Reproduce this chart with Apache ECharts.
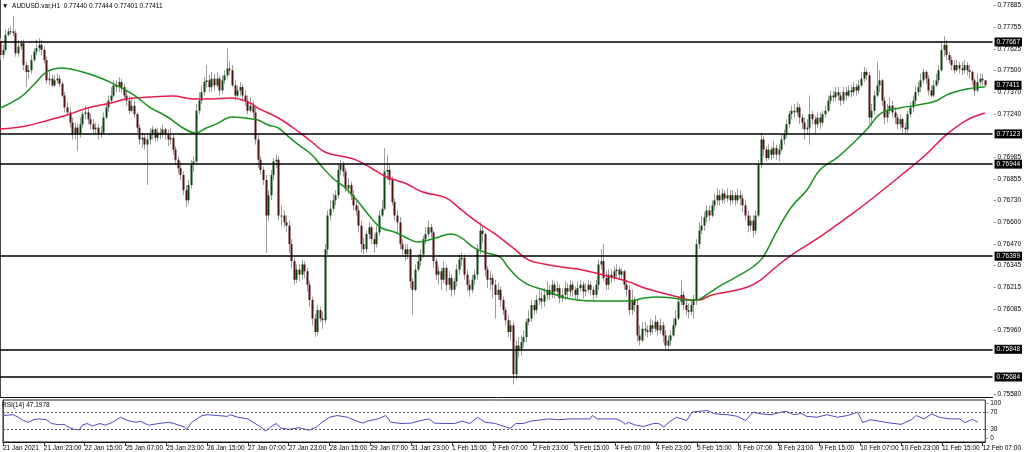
<!DOCTYPE html>
<html><head><meta charset="utf-8">
<script src="https://cdn.jsdelivr.net/npm/echarts@6/dist/echarts.min.js"></script>
<style>html,body{margin:0;padding:0;background:#fff}#c{width:1024px;height:452px}</style>
</head><body><div id="c"></div><script>
const symbolName = 'AUDUSD.var,H1';
const tickLabels = ['21 Jan 2021','21 Jan 23:00','22 Jan 15:00','25 Jan 07:00','25 Jan 23:00','26 Jan 15:00','27 Jan 07:00','27 Jan 23:00','28 Jan 15:00','29 Jan 07:00','31 Jan 23:00','1 Feb 15:00','2 Feb 07:00','2 Feb 23:00','3 Feb 15:00','4 Feb 07:00','4 Feb 23:00','5 Feb 15:00','8 Feb 07:00','8 Feb 23:00','9 Feb 15:00','10 Feb 07:00','10 Feb 23:00','11 Feb 15:00','12 Feb 07:00'];
const priceTicks = [0.77885,0.77755,0.77625,0.775,0.7737,0.7724,0.76985,0.76855,0.7673,0.766,0.7647,0.76345,0.76215,0.76085,0.7596,0.7558];
const rsiTicks = [0,30,70,100];
const rsiLevels = [30,70];
const hLevels = [0.77667,0.77123,0.76944,0.76399,0.75848,0.75684];

const openP = [
0.7767,0.7759,0.7762,0.7771,0.7773,0.7773,0.7772,0.7760,0.7764,0.7766,
0.7753,0.7749,0.7750,0.7756,0.7761,0.7763,0.7765,0.7762,0.7756,0.7744,
0.7745,0.7741,0.7744,0.7745,0.7742,0.7735,0.7728,0.7725,0.7719,0.7712,
0.7716,0.7712,0.7718,0.7724,0.7725,0.7721,0.7718,0.7715,0.7716,0.7712,
0.7713,0.7722,0.7728,0.7732,0.7735,0.7741,0.7740,0.7743,0.7740,0.7735,
0.7732,0.7726,0.7729,0.7724,0.7716,0.7709,0.7710,0.7706,0.7709,0.7712,
0.7715,0.7710,0.7713,0.7712,0.7715,0.7712,0.7709,0.7710,0.7703,0.7697,
0.7692,0.7688,0.7679,0.7673,0.7682,0.7694,0.7696,0.7726,0.7732,0.7737,
0.7743,0.7744,0.7740,0.7745,0.7741,0.7745,0.7738,0.7744,0.7747,0.7751,
0.7750,0.7741,0.7735,0.7738,0.7740,0.7735,0.7732,0.7726,0.7729,0.7725,
0.7709,0.7697,0.7691,0.7685,0.7664,0.7676,0.7688,0.7696,0.7697,0.7664,
0.7664,0.7660,0.7658,0.7647,0.7637,0.7626,0.7632,0.7629,0.7635,0.7631,
0.7623,0.7614,0.7603,0.7595,0.7608,0.7603,0.7602,0.7644,0.7664,0.7668,
0.7673,0.7676,0.7691,0.7694,0.7690,0.7680,0.7682,0.7676,0.7670,0.7667,
0.7658,0.7647,0.7644,0.7653,0.7657,0.7650,0.7647,0.7654,0.7664,0.7668,
0.7690,0.7691,0.7685,0.7672,0.7664,0.7660,0.7647,0.7644,0.7641,0.7644,
0.7625,0.7620,0.7632,0.7637,0.7641,0.7650,0.7653,0.7657,0.7654,0.7637,
0.7629,0.7631,0.7626,0.7633,0.7623,0.7627,0.7620,0.7625,0.7632,0.7638,
0.7639,0.7629,0.7623,0.7620,0.7626,0.7629,0.7644,0.7655,0.7653,0.7632,
0.7626,0.7627,0.7623,0.7617,0.7620,0.7614,0.7608,0.7602,0.7595,0.7599,
0.7570,0.7587,0.7584,0.7589,0.7592,0.7601,0.7603,0.7611,0.7608,0.7614,
0.7615,0.7613,0.7617,0.7620,0.7617,0.7623,0.7619,0.7621,0.7615,0.7617,
0.7621,0.7619,0.7623,0.7620,0.7617,0.7621,0.7623,0.7619,0.7620,0.7623,
0.7620,0.7617,0.7623,0.7635,0.7637,0.7627,0.7623,0.7629,0.7627,0.7631,
0.7632,0.7629,0.7631,0.7623,0.7620,0.7608,0.7614,0.7611,0.7593,0.7590,
0.7597,0.7596,0.7595,0.7599,0.7597,0.7601,0.7596,0.7599,0.7593,0.7587,
0.7590,0.7593,0.7599,0.7603,0.7613,0.7617,0.7611,0.7608,0.7607,0.7611,
0.7614,0.7647,0.7655,0.7658,0.7663,0.7667,0.7664,0.7670,0.7673,0.7676,
0.7673,0.7677,0.7674,0.7676,0.7673,0.7676,0.7673,0.7676,0.7674,0.7670,
0.7664,0.7658,0.7661,0.7655,0.7664,0.7694,0.7709,0.7703,0.7698,0.7703,
0.7700,0.7704,0.7700,0.7703,0.7709,0.7712,0.7718,0.7724,0.7726,0.7725,
0.7728,0.7722,0.7719,0.7715,0.7716,0.7724,0.7721,0.7718,0.7722,0.7719,
0.7724,0.7726,0.7732,0.7735,0.7734,0.7737,0.7735,0.7732,0.7737,0.7735,
0.7738,0.7737,0.7740,0.7738,0.7741,0.7745,0.7749,0.7747,0.7722,0.7726,
0.7735,0.7741,0.7744,0.7732,0.7722,0.7726,0.7729,0.7725,0.7722,0.7718,
0.7721,0.7716,0.7715,0.7724,0.7728,0.7732,0.7737,0.7740,0.7744,0.7749,
0.7745,0.7738,0.7735,0.7741,0.7744,0.7750,0.7762,0.7765,0.7759,0.7756,
0.7753,0.7750,0.7753,0.7751,0.7750,0.7753,0.7750,0.7749,0.7744,0.7738,
0.7743,0.7745,0.77440];

const highP = [
0.7769,0.7765,0.7774,0.7775,0.7776,0.7782,0.7774,0.7768,0.7768,0.7768,
0.7755,0.7753,0.7759,0.7763,0.7768,0.7769,0.7768,0.7764,0.7758,0.7749,
0.7747,0.7747,0.7748,0.7747,0.7743,0.7737,0.7731,0.7728,0.7722,0.7719,
0.7718,0.7722,0.7726,0.7729,0.7728,0.7724,0.7721,0.7719,0.7718,0.7717,
0.7725,0.7731,0.7735,0.7740,0.7744,0.7744,0.7746,0.7745,0.7742,0.7738,
0.7735,0.7734,0.7732,0.7725,0.7718,0.7713,0.7712,0.7712,0.7716,0.7717,
0.7716,0.7716,0.7716,0.7718,0.7716,0.7715,0.7716,0.7712,0.7705,0.7699,
0.7696,0.7690,0.7682,0.7685,0.7697,0.7699,0.7730,0.7737,0.7741,0.7746,
0.7753,0.7747,0.7749,0.7748,0.7749,0.7747,0.7747,0.7750,0.7763,0.7755,
0.7753,0.7744,0.7741,0.7743,0.7742,0.7738,0.7735,0.7734,0.7732,0.7728,
0.7712,0.7699,0.7693,0.7688,0.7679,0.7691,0.7698,0.7700,0.7699,0.7670,
0.7667,0.7664,0.7661,0.7650,0.7639,0.7635,0.7635,0.7638,0.7637,0.7633,
0.7625,0.7616,0.7606,0.7611,0.7610,0.7607,0.7647,0.7667,0.7673,0.7677,
0.7679,0.7694,0.7697,0.7696,0.7692,0.7686,0.7684,0.7679,0.7673,0.7670,
0.7661,0.7651,0.7655,0.7660,0.7658,0.7653,0.7658,0.7667,0.7673,0.7704,
0.7700,0.7694,0.7687,0.7674,0.7667,0.7663,0.7650,0.7647,0.7647,0.7645,
0.7627,0.7635,0.7641,0.7644,0.7652,0.7657,0.7661,0.7659,0.7655,0.7639,
0.7634,0.7633,0.7637,0.7635,0.7631,0.7629,0.7627,0.7635,0.7641,0.7642,
0.7641,0.7632,0.7626,0.7629,0.7632,0.7647,0.7660,0.7658,0.7654,0.7634,
0.7631,0.7629,0.7626,0.7624,0.7622,0.7616,0.7610,0.7605,0.7602,0.7601,
0.7590,0.7592,0.7593,0.7596,0.7603,0.7608,0.7614,0.7614,0.7617,0.7620,
0.7619,0.7621,0.7625,0.7623,0.7626,0.7625,0.7625,0.7623,0.7621,0.7625,
0.7624,0.7626,0.7625,0.7622,0.7625,0.7626,0.7625,0.7624,0.7626,0.7625,
0.7622,0.7626,0.7638,0.7644,0.7647,0.7631,0.7632,0.7632,0.7634,0.7635,
0.7634,0.7633,0.7632,0.7626,0.7623,0.7620,0.7616,0.7614,0.7599,0.7601,
0.7601,0.7599,0.7603,0.7602,0.7605,0.7602,0.7603,0.7601,0.7596,0.7593,
0.7596,0.7603,0.7608,0.7616,0.7626,0.7619,0.7614,0.7612,0.7614,0.7617,
0.7650,0.7660,0.7664,0.7666,0.7670,0.7670,0.7673,0.7677,0.7680,0.7679,
0.7680,0.7679,0.7680,0.7679,0.7679,0.7678,0.7680,0.7679,0.7677,0.7673,
0.7667,0.7664,0.7664,0.7667,0.7697,0.7713,0.7711,0.7705,0.7706,0.7705,
0.7708,0.7706,0.7706,0.7712,0.7715,0.7721,0.7726,0.7729,0.7730,0.7731,
0.7730,0.7724,0.7722,0.7721,0.7735,0.7726,0.7723,0.7725,0.7725,0.7726,
0.7729,0.7735,0.7738,0.7738,0.7740,0.7740,0.7737,0.7740,0.7740,0.7741,
0.7741,0.7743,0.7742,0.7744,0.7749,0.7752,0.7751,0.7749,0.7730,0.7738,
0.7755,0.7750,0.7745,0.7734,0.7730,0.7734,0.7732,0.7728,0.7724,0.7724,
0.7722,0.7719,0.7726,0.7731,0.7735,0.7741,0.7743,0.7748,0.7751,0.7750,
0.7747,0.7741,0.7744,0.7748,0.7753,0.7767,0.7770,0.7768,0.7761,0.7758,
0.7756,0.7756,0.7755,0.7755,0.7756,0.7755,0.7753,0.7750,0.7745,0.7748,
0.7748,0.7748,0.77444];

const lowP = [
0.7756,0.7757,0.7761,0.7770,0.7771,0.7770,0.7758,0.7758,0.7762,0.7750,
0.7740,0.7745,0.7748,0.7755,0.7759,0.7761,0.7759,0.7754,0.7742,0.7741,
0.7740,0.7740,0.7742,0.7740,0.7734,0.7725,0.7724,0.7716,0.7709,0.7709,
0.7702,0.7710,0.7716,0.7721,0.7718,0.7715,0.7712,0.7712,0.7709,0.7710,
0.7712,0.7721,0.7725,0.7731,0.7734,0.7737,0.7737,0.7737,0.7732,0.7729,
0.7724,0.7725,0.7722,0.7713,0.7706,0.7704,0.7703,0.7682,0.7706,0.7709,
0.7708,0.7708,0.7709,0.7710,0.7709,0.7705,0.7706,0.7700,0.7694,0.7689,
0.7685,0.7676,0.7669,0.7671,0.7680,0.7690,0.7694,0.7724,0.7730,0.7735,
0.7740,0.7737,0.7737,0.7738,0.7740,0.7735,0.7736,0.7742,0.7745,0.7747,
0.7740,0.7732,0.7734,0.7735,0.7732,0.7729,0.7724,0.7725,0.7722,0.7706,
0.7692,0.7688,0.7682,0.7642,0.7661,0.7673,0.7685,0.7692,0.7661,0.7658,
0.7657,0.7654,0.7642,0.7633,0.7623,0.7624,0.7625,0.7626,0.7627,0.7619,
0.7610,0.7599,0.7592,0.7593,0.7601,0.7597,0.7600,0.7641,0.7661,0.7666,
0.7670,0.7674,0.7688,0.7687,0.7678,0.7677,0.7673,0.7667,0.7664,0.7654,
0.7642,0.7641,0.7642,0.7650,0.7647,0.7642,0.7645,0.7652,0.7663,0.7667,
0.7685,0.7682,0.7670,0.7661,0.7653,0.7644,0.7640,0.7637,0.7638,0.7621,
0.7605,0.7619,0.7631,0.7634,0.7639,0.7647,0.7651,0.7651,0.7633,0.7626,
0.7623,0.7620,0.7624,0.7619,0.7620,0.7616,0.7617,0.7622,0.7629,0.7634,
0.7626,0.7619,0.7616,0.7618,0.7623,0.7626,0.7641,0.7648,0.7628,0.7621,
0.7620,0.7615,0.7603,0.7614,0.7610,0.7605,0.7599,0.7592,0.7590,0.7564,
0.7567,0.7580,0.7581,0.7586,0.7589,0.7599,0.7601,0.7605,0.7606,0.7611,
0.7609,0.7610,0.7614,0.7614,0.7615,0.7615,0.7616,0.7612,0.7613,0.7614,
0.7615,0.7616,0.7616,0.7614,0.7614,0.7619,0.7615,0.7616,0.7618,0.7617,
0.7614,0.7615,0.7620,0.7632,0.7625,0.7620,0.7620,0.7624,0.7625,0.7627,
0.7626,0.7626,0.7620,0.7616,0.7605,0.7605,0.7607,0.7589,0.7587,0.7589,
0.7593,0.7592,0.7593,0.7594,0.7595,0.7593,0.7594,0.7589,0.7584,0.7584,
0.7587,0.7592,0.7597,0.7602,0.7611,0.7608,0.7605,0.7603,0.7605,0.7603,
0.7611,0.7644,0.7653,0.7655,0.7660,0.7661,0.7663,0.7667,0.7670,0.7670,
0.7671,0.7671,0.7672,0.7670,0.7671,0.7670,0.7671,0.7670,0.7666,0.7661,
0.7654,0.7655,0.7651,0.7653,0.7663,0.7692,0.7699,0.7696,0.7697,0.7697,
0.7698,0.7697,0.7696,0.7702,0.7706,0.7710,0.7716,0.7721,0.7722,0.7723,
0.7718,0.7715,0.7709,0.7712,0.7706,0.7718,0.7712,0.7716,0.7715,0.7717,
0.7722,0.7725,0.7730,0.7731,0.7732,0.7732,0.7729,0.7730,0.7732,0.7734,
0.7734,0.7735,0.7735,0.7736,0.7740,0.7743,0.7744,0.7718,0.7717,0.7724,
0.7734,0.7737,0.7729,0.7718,0.7719,0.7724,0.7722,0.7718,0.7715,0.7715,
0.7713,0.7712,0.7713,0.7722,0.7725,0.7730,0.7735,0.7737,0.7742,0.7742,
0.7735,0.7734,0.7734,0.7740,0.7742,0.7749,0.7758,0.7756,0.7754,0.7750,
0.7748,0.7749,0.7748,0.7747,0.7748,0.7747,0.7745,0.7741,0.7735,0.7737,
0.7741,0.7741,0.77401];

const closeP = [
0.7759,0.7762,0.7771,0.7773,0.7773,0.7772,0.7760,0.7764,0.7766,0.7753,
0.7749,0.7750,0.7756,0.7761,0.7763,0.7765,0.7762,0.7756,0.7744,0.7745,
0.7741,0.7744,0.7745,0.7742,0.7735,0.7728,0.7725,0.7719,0.7712,0.7716,
0.7712,0.7718,0.7724,0.7725,0.7721,0.7718,0.7715,0.7716,0.7712,0.7713,
0.7722,0.7728,0.7732,0.7735,0.7741,0.7740,0.7743,0.7740,0.7735,0.7732,
0.7726,0.7729,0.7724,0.7716,0.7709,0.7710,0.7706,0.7709,0.7712,0.7715,
0.7710,0.7713,0.7712,0.7715,0.7712,0.7709,0.7710,0.7703,0.7697,0.7692,
0.7688,0.7679,0.7673,0.7682,0.7694,0.7696,0.7726,0.7732,0.7737,0.7743,
0.7744,0.7740,0.7745,0.7741,0.7745,0.7738,0.7744,0.7747,0.7751,0.7750,
0.7741,0.7735,0.7738,0.7740,0.7735,0.7732,0.7726,0.7729,0.7725,0.7709,
0.7697,0.7691,0.7685,0.7664,0.7676,0.7688,0.7696,0.7697,0.7664,0.7664,
0.7660,0.7658,0.7647,0.7637,0.7626,0.7632,0.7629,0.7635,0.7631,0.7623,
0.7614,0.7603,0.7595,0.7608,0.7603,0.7602,0.7644,0.7664,0.7668,0.7673,
0.7676,0.7691,0.7694,0.7690,0.7680,0.7682,0.7676,0.7670,0.7667,0.7658,
0.7647,0.7644,0.7653,0.7657,0.7650,0.7647,0.7654,0.7664,0.7668,0.7690,
0.7691,0.7685,0.7672,0.7664,0.7660,0.7647,0.7644,0.7641,0.7644,0.7625,
0.7620,0.7632,0.7637,0.7641,0.7650,0.7653,0.7657,0.7654,0.7637,0.7629,
0.7631,0.7626,0.7633,0.7623,0.7627,0.7620,0.7625,0.7632,0.7638,0.7639,
0.7629,0.7623,0.7620,0.7626,0.7629,0.7644,0.7655,0.7653,0.7632,0.7626,
0.7627,0.7623,0.7617,0.7620,0.7614,0.7608,0.7602,0.7595,0.7599,0.7570,
0.7587,0.7584,0.7589,0.7592,0.7601,0.7603,0.7611,0.7608,0.7614,0.7615,
0.7613,0.7617,0.7620,0.7617,0.7623,0.7619,0.7621,0.7615,0.7617,0.7621,
0.7619,0.7623,0.7620,0.7617,0.7621,0.7623,0.7619,0.7620,0.7623,0.7620,
0.7617,0.7623,0.7635,0.7637,0.7627,0.7623,0.7629,0.7627,0.7631,0.7632,
0.7629,0.7631,0.7623,0.7620,0.7608,0.7614,0.7611,0.7593,0.7590,0.7597,
0.7596,0.7595,0.7599,0.7597,0.7601,0.7596,0.7599,0.7593,0.7587,0.7590,
0.7593,0.7599,0.7603,0.7613,0.7617,0.7611,0.7608,0.7607,0.7611,0.7614,
0.7647,0.7655,0.7658,0.7663,0.7667,0.7664,0.7670,0.7673,0.7676,0.7673,
0.7677,0.7674,0.7676,0.7673,0.7676,0.7673,0.7676,0.7674,0.7670,0.7664,
0.7658,0.7661,0.7655,0.7664,0.7694,0.7709,0.7703,0.7698,0.7703,0.7700,
0.7704,0.7700,0.7703,0.7709,0.7712,0.7718,0.7724,0.7726,0.7725,0.7728,
0.7722,0.7719,0.7715,0.7716,0.7724,0.7721,0.7718,0.7722,0.7719,0.7724,
0.7726,0.7732,0.7735,0.7734,0.7737,0.7735,0.7732,0.7737,0.7735,0.7738,
0.7737,0.7740,0.7738,0.7741,0.7745,0.7749,0.7747,0.7722,0.7726,0.7735,
0.7741,0.7744,0.7732,0.7722,0.7726,0.7729,0.7725,0.7722,0.7718,0.7721,
0.7716,0.7715,0.7724,0.7728,0.7732,0.7737,0.7740,0.7744,0.7749,0.7745,
0.7738,0.7735,0.7741,0.7744,0.7750,0.7762,0.7765,0.7759,0.7756,0.7753,
0.7750,0.7753,0.7751,0.7750,0.7753,0.7750,0.7749,0.7744,0.7738,0.7743,
0.7745,0.7744,0.77411];

// Moving averages: [bar index, price]
const maGreen = [[0,0.77276],[8,0.77341],[13,0.77412],[18,0.77489],[24,0.77513],[32,0.77489],[39,0.77454],[45,0.77412],[52,0.77353],[58,0.77282],[65,0.77223],[71,0.77158],[76,0.77128],[80,0.77158],[84,0.77182],[90,0.77223],[95,0.77217],[100,0.77205],[104,0.77176],[108,0.77158],[112,0.77105],[116,0.77057],[121,0.76998],[125,0.76927],[129,0.76862],[134,0.76803],[139,0.76720],[144,0.76625],[148,0.76566],[153,0.76542],[157,0.76513],[162,0.76483],[169,0.76507],[175,0.76531],[179,0.76507],[184,0.76448],[189,0.76418],[194,0.76394],[197,0.76335],[201,0.76270],[205,0.76229],[211,0.76199],[218,0.76158],[224,0.76140],[231,0.76134],[238,0.76134],[244,0.76134],[250,0.76152],[255,0.76158],[261,0.76152],[266,0.76140],[270,0.76140],[275,0.76181],[280,0.76229],[287,0.76288],[292,0.76335],[296,0.76394],[301,0.76537],[307,0.76690],[313,0.76791],[318,0.76909],[325,0.76986],[331,0.77069],[336,0.77146],[342,0.77247],[349,0.77276],[356,0.77294],[363,0.77318],[368,0.77359],[375,0.77389],[382,0.77401]];
const maRed = [[0,0.77152],[10,0.77170],[19,0.77205],[26,0.77235],[34,0.77276],[43,0.77306],[49,0.77330],[58,0.77341],[67,0.77347],[75,0.77330],[80,0.77330],[90,0.77336],[97,0.77306],[100,0.77276],[108,0.77217],[116,0.77134],[121,0.77075],[126,0.77016],[134,0.76986],[138,0.76969],[144,0.76921],[150,0.76868],[157,0.76832],[164,0.76779],[173,0.76744],[179,0.76673],[185,0.76602],[192,0.76531],[199,0.76448],[205,0.76377],[211,0.76353],[218,0.76335],[224,0.76323],[231,0.76300],[237,0.76276],[244,0.76247],[250,0.76211],[257,0.76181],[263,0.76158],[268,0.76140],[271,0.76140],[276,0.76169],[282,0.76187],[290,0.76217],[295,0.76258],[301,0.76335],[307,0.76406],[318,0.76513],[331,0.76655],[341,0.76773],[352,0.76909],[359,0.76998],[367,0.77117],[375,0.77205],[382,0.77247]];
// RSI(14): [bar index, value]
const rsi14 = [[0,63],[4,65],[6,59],[8,51],[10,47],[12,53],[14,55],[17,53],[19,44],[22,41],[24,42],[26,34],[28,30],[30,29],[31,40],[33,44],[35,38],[38,44],[40,40],[43,47],[46,59],[49,51],[52,47],[54,49],[57,40],[61,44],[65,47],[67,44],[71,36],[72,30],[74,47],[78,63],[80,65],[84,63],[88,61],[89,65],[92,59],[96,55],[98,47],[101,36],[103,26],[105,36],[107,44],[109,33],[112,30],[116,34],[120,28],[123,36],[125,47],[128,59],[131,63],[135,59],[138,51],[141,45],[143,50],[147,55],[150,63],[152,47],[156,44],[160,45],[163,50],[167,55],[169,45],[173,44],[177,44],[180,50],[183,44],[186,59],[189,47],[193,44],[195,40],[198,34],[199,33],[201,44],[204,44],[207,50],[211,53],[214,55],[218,53],[222,55],[226,55],[230,55],[231,63],[233,55],[237,55],[240,55],[242,51],[244,42],[245,47],[248,40],[251,37],[255,44],[257,44],[259,36],[261,47],[264,59],[268,51],[270,71],[273,73],[276,75],[279,67],[284,65],[288,61],[291,51],[294,71],[297,67],[301,65],[305,71],[307,73],[310,65],[313,68],[315,61],[319,59],[323,65],[327,59],[331,63],[335,71],[337,46],[340,53],[344,49],[348,45],[352,42],[356,53],[358,63],[361,55],[364,67],[367,59],[371,55],[375,55],[377,46],[380,54],[382,47.1978]];

const FONT = 'Liberation Sans';
const last = closeP.length - 1;
const candles = closeP.map((c, i) => [i, openP[i], c, lowP[i], highP[i]]);

function renderCandle(params, api) {
  const i = api.value(0), o = api.value(1), c = api.value(2), l = api.value(3), h = api.value(4);
  const pO = api.coord([i, o]), pC = api.coord([i, c]), pL = api.coord([i, l]), pH = api.coord([i, h]);
  const x = Math.round(pO[0]);
  const top = Math.min(pO[1], pC[1]);
  const bh = Math.max(1, Math.abs(pO[1] - pC[1]));
  return {
    type: 'group',
    children: [
      { type: 'line', shape: { x1: x + 0.5, y1: pH[1], x2: x + 0.5, y2: pL[1] }, style: { stroke: '#9c9c9c', lineWidth: 1 } },
      { type: 'rect', shape: { x: x - 0.5, y: top, width: 2, height: bh }, style: { fill: c >= o ? '#0c4510' : '#521212' } }
    ]
  };
}

const boxLabel = {
  show: true, position: 'end', distance: 2,
  formatter: p => Number(p.value).toFixed(5),
  color: '#fff', backgroundColor: '#000', padding: [1, 2, 1, 2],
  fontSize: 6.5, fontFamily: FONT
};

const chart = echarts.init(document.getElementById('c'), null, { renderer: 'canvas' });
chart.setOption({
  animation: false,
  backgroundColor: '#fff',
  title: [
    { text: '\u25BC  ' + symbolName + '  ' + [openP[last], highP[last], lowP[last], closeP[last]].map(v => v.toFixed(5)).join(' '),
      left: 2, top: 3, padding: 0,
      textStyle: { fontSize: 6.5, fontWeight: 'normal', color: '#000', fontFamily: FONT } },
    { text: 'RSI(14) ' + rsi14[rsi14.length - 1][1].toFixed(4),
      left: 2, top: 402, padding: 0,
      textStyle: { fontSize: 6.5, fontWeight: 'normal', color: '#000', fontFamily: FONT } }
  ],
  grid: [
    { left: 0, right: 31, top: 0, height: 397 },
    { left: 0, right: 31, top: 400, height: 42, show: true, borderColor: '#222', borderWidth: 1, backgroundColor: 'transparent' }
  ],
  xAxis: [
    { type: 'value', gridIndex: 0, min: 0, max: 385,
      axisLine: { show: true, lineStyle: { color: '#111', width: 1 } },
      axisTick: { show: false }, axisLabel: { show: false }, splitLine: { show: false } },
    { type: 'value', gridIndex: 1, min: 0, max: 385, interval: 16,
      axisLine: { show: true, lineStyle: { color: '#111', width: 1 } },
      axisTick: { show: true, length: 4, lineStyle: { color: '#333' } },
      axisLabel: { show: true, align: 'left', margin: 3, fontSize: 6.5, color: '#000', fontFamily: FONT,
        showMinLabel: true, showMaxLabel: false, hideOverlap: false,
        formatter: v => (v % 16 === 0 && tickLabels[v / 16]) ? tickLabels[v / 16] : '' },
      splitLine: { show: false } }
  ],
  yAxis: [
    { type: 'value', gridIndex: 0, position: 'right', min: 0.755656, max: 0.779156, scale: true,
      axisLine: { show: true, lineStyle: { color: '#444' } },
      axisTick: { show: false },
      axisLabel: { show: true, customValues: priceTicks, margin: 1, fontSize: 6.5, color: '#000', fontFamily: FONT,
        formatter: v => '- ' + v.toFixed(5) },
      splitLine: { show: false } },
    { type: 'value', gridIndex: 1, position: 'right', min: 0, max: 100,
      axisLine: { show: true, lineStyle: { color: '#444' } },
      axisTick: { show: false },
      axisLabel: { show: true, customValues: rsiTicks, margin: 1, fontSize: 6.5, color: '#000', fontFamily: FONT,
        formatter: v => v === 100 ? '{a|- 100}' : (v === 0 ? '{b|- 0}' : '- ' + v),
        rich: { a: { fontSize: 6.5, fontFamily: FONT, padding: [7, 0, 0, 0] }, b: { fontSize: 6.5, fontFamily: FONT, padding: [0, 0, 7, 0] } } },
      splitLine: { show: false } }
  ],
  series: [
    { type: 'custom', name: 'candles', xAxisIndex: 0, yAxisIndex: 0, renderItem: renderCandle,
      data: candles, encode: { x: 0, y: [1, 2, 3, 4] }, clip: true, z: 2 },
    { type: 'line', name: 'MA red', xAxisIndex: 0, yAxisIndex: 0, data: maRed, smooth: 0.4, showSymbol: false,
      lineStyle: { color: '#e8194b', width: 1.5 }, z: 3, silent: true,
      markLine: { silent: true, symbol: ['none', 'none'], animation: false, precision: 5,
        lineStyle: { color: '#000', width: 1.5, type: 'solid' },
        label: boxLabel,
        data: hLevels.map(v => ({ yAxis: v })).concat([{ yAxis: closeP[last], lineStyle: { color: 'rgba(0,0,0,0)', width: 0.01 },
          label: Object.assign({}, boxLabel) }]) } },
    { type: 'line', name: 'MA green', xAxisIndex: 0, yAxisIndex: 0, data: maGreen, smooth: 0.4, showSymbol: false,
      lineStyle: { color: '#18921c', width: 1.5 }, z: 3, silent: true },
    { type: 'line', name: 'RSI', xAxisIndex: 1, yAxisIndex: 1, data: rsi14, showSymbol: false,
      lineStyle: { color: '#4a4ac4', width: 1 }, z: 3, silent: true,
      markLine: { silent: true, symbol: ['none', 'none'], animation: false, precision: 2,
        lineStyle: { color: '#555', width: 1, type: [2, 2] }, label: { show: false },
        data: rsiLevels.map(v => ({ yAxis: v })) } }
  ]
});
</script></body></html>
